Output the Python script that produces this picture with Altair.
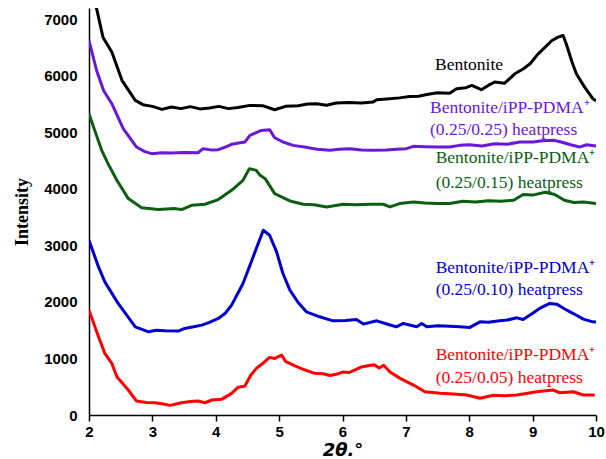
import altair as alt
import pandas as pd

# ---- data ----
bent_x = [2.0, 2.12, 2.22, 2.36, 2.52, 2.73, 2.85, 3.0, 3.15, 3.3, 3.45, 3.6, 3.75, 3.9, 4.05, 4.2, 4.35, 4.54, 4.75, 4.93,
          5.1, 5.3, 5.45, 5.59, 5.75, 5.9, 6.1, 6.3, 6.48, 6.54, 6.7, 6.9, 7.06, 7.2, 7.33, 7.5, 7.69, 7.8, 7.95, 8.04,
          8.19, 8.3, 8.4, 8.56, 8.72, 8.85, 8.96, 9.08, 9.17, 9.3, 9.4, 9.48, 9.53, 9.62, 9.69, 9.82, 9.95, 10.0]
bent_y = [7600, 7190, 6684, 6420, 5920, 5565, 5490, 5460, 5406, 5450, 5420, 5455, 5415, 5430, 5460, 5420, 5440, 5477, 5470, 5400,
          5460, 5470, 5500, 5507, 5480, 5520, 5530, 5520, 5535, 5577, 5590, 5610, 5636, 5640, 5671, 5700, 5690, 5772, 5790, 5830,
          5754, 5830, 5890, 5870, 6036, 6120, 6213, 6380, 6478, 6620, 6684, 6714, 6567, 6250, 6037, 5800, 5595, 5560]

p25_x = [2.0, 2.12, 2.23, 2.36, 2.54, 2.75, 2.88, 2.99, 3.15, 3.3, 3.5, 3.72, 3.8, 3.92, 4.04, 4.15, 4.25, 4.46, 4.54, 4.72,
         4.85, 4.93, 5.06, 5.22, 5.4, 5.6, 5.8, 5.95, 6.12, 6.3, 6.48, 6.7, 6.85, 7.01, 7.12, 7.3, 7.5, 7.69, 7.85, 8.0,
         8.2, 8.4, 8.6, 8.8, 9.01, 9.15, 9.33, 9.45, 9.6, 9.74, 9.85, 10.0]
p25_y = [6625, 6095, 5742, 5507, 5065, 4740, 4660, 4623, 4640, 4635, 4645, 4640, 4711, 4690, 4694, 4740, 4788, 4829, 4947, 5035,
         5048, 4905, 4829, 4770, 4740, 4700, 4682, 4700, 4711, 4690, 4682, 4690, 4700, 4711, 4753, 4745, 4740, 4740, 4770, 4780,
         4760, 4800, 4790, 4830, 4829, 4850, 4859, 4830, 4780, 4740, 4780, 4760]

p15_x = [2.0, 2.09, 2.2, 2.3, 2.44, 2.62, 2.83, 3.09, 3.36, 3.46, 3.62, 3.83, 4.04, 4.25, 4.43, 4.53, 4.64, 4.7, 4.78, 4.93,
         5.17, 5.38, 5.55, 5.75, 6.01, 6.2, 6.45, 6.64, 6.75, 6.9, 7.12, 7.3, 7.5, 7.69, 7.9, 8.1, 8.3, 8.5, 8.7, 8.85,
         9.0, 9.2, 9.35, 9.5, 9.65, 9.8, 10.0]
p15_y = [5330, 5035, 4682, 4447, 4152, 3828, 3668, 3634, 3651, 3634, 3710, 3728, 3811, 3975, 4152, 4358, 4328, 4240, 4181, 3917,
         3787, 3728, 3720, 3681, 3728, 3720, 3730, 3728, 3681, 3740, 3769, 3750, 3740, 3740, 3780, 3770, 3790, 3780, 3800, 3900,
         3890, 3940, 3900, 3800, 3760, 3770, 3740]

p10_x = [2.0, 2.15, 2.25, 2.46, 2.73, 2.94, 3.06, 3.2, 3.41, 3.51, 3.65, 3.78, 3.9, 4.04, 4.15, 4.25, 4.43, 4.57, 4.75, 4.85,
         4.96, 5.06, 5.17, 5.3, 5.43, 5.64, 5.85, 6.05, 6.22, 6.33, 6.54, 6.7, 6.85, 6.96, 7.17, 7.25, 7.33, 7.5, 7.69, 7.85,
         8.01, 8.17, 8.3, 8.48, 8.6, 8.75, 8.85, 9.0, 9.11, 9.27, 9.38, 9.5, 9.59, 9.7, 9.8, 9.95, 10.0]
p10_y = [3092, 2620, 2355, 1973, 1560, 1472, 1500, 1490, 1484, 1532, 1560, 1590, 1640, 1708, 1800, 1943, 2327, 2739, 3269, 3180,
         2886, 2504, 2208, 1990, 1825, 1737, 1666, 1670, 1690, 1608, 1666, 1610, 1560, 1620, 1560, 1620, 1560, 1580, 1572, 1560,
         1549, 1648, 1640, 1666, 1680, 1719, 1690, 1800, 1885, 1973, 1961, 1880, 1825, 1760, 1696, 1648, 1645]

p05_x = [2.0, 2.15, 2.25, 2.36, 2.44, 2.62, 2.75, 2.9, 3.04, 3.15, 3.28, 3.46, 3.6, 3.72, 3.83, 3.94, 4.09, 4.25, 4.35, 4.46,
         4.55, 4.64, 4.75, 4.85, 4.93, 5.04, 5.1, 5.25, 5.4, 5.55, 5.7, 5.8, 5.9, 6.0, 6.1, 6.2, 6.3, 6.4, 6.5, 6.58,
         6.65, 6.75, 6.91, 7.12, 7.3, 7.54, 7.75, 7.96, 8.17, 8.38, 8.55, 8.75, 8.9, 9.06, 9.32, 9.43, 9.64, 9.8, 9.98]
p05_y = [1855, 1383, 1090, 913, 677, 442, 247, 220, 217, 200, 170, 217, 240, 247, 217, 265, 277, 383, 489, 512,
         700, 825, 920, 1019, 1001, 1060, 950, 870, 800, 740, 730, 700, 720, 760, 750, 800, 850, 870, 890, 830,
         880, 760, 648, 530, 412, 383, 370, 353, 295, 348, 340, 353, 380, 412, 442, 394, 412, 353, 353]

series_names = ["bent", "p25", "p15", "p10", "p05"]
series_colors = ["#000000", "#6A17D8", "#0B5E12", "#0000D0", "#FF0000"]

label_text = ["Bentonite",
              "Bentonite/iPP-PDMA\u207a", "(0.25/0.25) heatpress",
              "Bentonite/iPP-PDMA\u207a", "(0.25/0.15) heatpress",
              "Bentonite/iPP-PDMA\u207a", "(0.25/0.10) heatpress",
              "Bentonite/iPP-PDMA\u207a", "(0.25/0.05) heatpress"]
label_series = ["bent", "p25", "p25", "p15", "p15", "p10", "p10", "p05", "p05"]
label_x = [7.46, 7.38, 7.38, 7.47, 7.47, 7.47, 7.47, 7.47, 7.47]
label_y = [6200, 5424, 5035, 4541, 4099, 2597, 2208, 1060, 654]

x_ticks = [2, 3, 4, 5, 6, 7, 8, 9, 10]
y_ticks = [0, 1000, 2000, 3000, 4000, 5000, 6000, 7000]

# ---- build table ----
rows = []
for name, xs, ys in [("bent", bent_x, bent_y), ("p25", p25_x, p25_y), ("p15", p15_x, p15_y),
                     ("p10", p10_x, p10_y), ("p05", p05_x, p05_y)]:
    for a, b in zip(xs, ys):
        rows.append({"series": name, "x": a, "y": b})
df = pd.DataFrame(rows)
labels = pd.DataFrame({"text": label_text, "series": label_series, "x": label_x, "y": label_y})

color = alt.Color("series:N", scale=alt.Scale(domain=series_names, range=series_colors), legend=None)
xscale = alt.Scale(domain=[2, 10], nice=False)
yscale = alt.Scale(domain=[0, 7200], nice=False)

lines = alt.Chart(df).mark_line(strokeWidth=3, clip=True, strokeJoin="round").encode(
    x=alt.X("x:Q", scale=xscale,
            axis=alt.Axis(title="2\u03b8.\u00b0", values=x_ticks, format="d", grid=False, labelFlush=False,
                          tickSize=6, labelPadding=3, titlePadding=2)),
    y=alt.Y("y:Q", scale=yscale,
            axis=alt.Axis(title="Intensity", values=y_ticks, format="d", grid=False, labelFlush=False,
                          ticks=False, labelPadding=12, titlePadding=12)),
    color=color,
    detail="series:N",
)

texts = alt.Chart(labels).mark_text(align="left", baseline="middle", font="Liberation Serif", fontSize=17.5).encode(
    x="x:Q", y="y:Q", text="text:N", color=color
)

chart = alt.layer(lines, texts).properties(
    width=507, height=407,
    padding={"left": 89, "top": 8, "right": 10, "bottom": 44},
    autosize="none",
).configure_view(stroke=None).configure_axis(
    domainColor="#000000", domainWidth=1.5, tickColor="#000000", tickWidth=1.5,
    labelFont="Liberation Sans", labelFontWeight="bold", labelFontSize=15, labelColor="#000000",
    titleColor="#000000",
).configure_axisX(
    titleFont="DejaVu Sans", titleFontWeight="bold", titleFontStyle="italic", titleFontSize=18,
).configure_axisY(
    titleFont="Liberation Serif", titleFontWeight="bold", titleFontSize=18,
)

chart.save("out.html", embed_options={"renderer": "svg", "actions": False})
